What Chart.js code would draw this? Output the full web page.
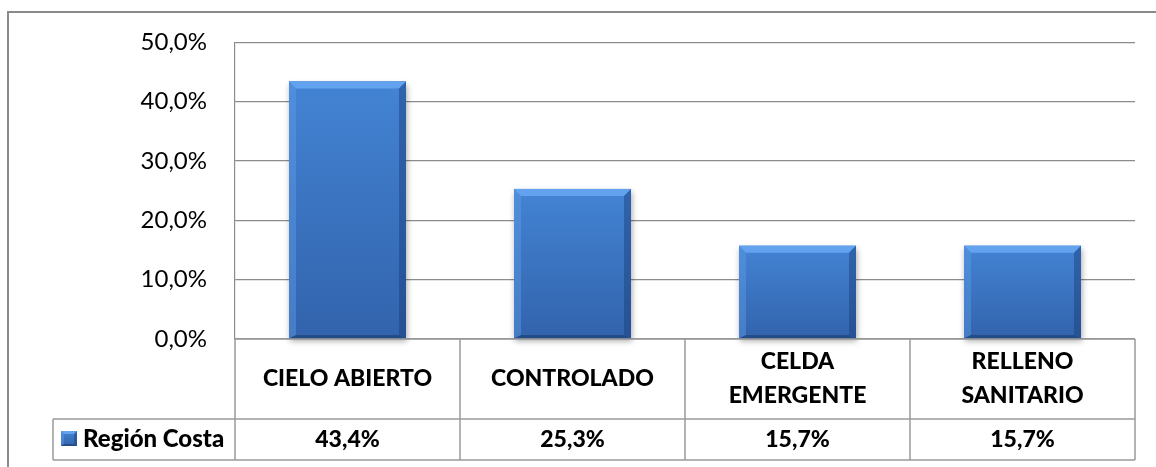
<!DOCTYPE html>
<html>
<head>
<meta charset="utf-8">
<script src="https://cdn.jsdelivr.net/npm/chart.js@4.4.1/dist/chart.umd.min.js"></script>
<style>
html,body{margin:0;padding:0;background:#fff;}
#wrap{width:1156px;height:467px;}
</style>
</head>
<body>
<div id="wrap"><canvas id="c" width="1156" height="467"></canvas></div>
<script>
// ---- data ----
const categories = [['CIELO ABIERTO'], ['CONTROLADO'], ['CELDA', 'EMERGENTE'], ['RELLENO', 'SANITARIO']];
const seriesName = 'Región Costa';
const values = [43.4, 25.3, 15.7, 15.7];
const yMin = 0, yMax = 50, yStep = 10;

const fmt = v => v.toFixed(1).replace('.', ',') + '%';
const FONT = 'Lato, "Open Sans", sans-serif';

function bevelBox(ctx, l, t, r, b, bv) {
  const g = ctx.createLinearGradient(0, t, 0, b);
  g.addColorStop(0, '#4384d4');
  g.addColorStop(1, '#3263ac');
  ctx.fillStyle = g;
  ctx.fillRect(l, t, r - l, b - t);
  const poly = (pts, c) => {
    ctx.beginPath();
    ctx.moveTo(pts[0][0], pts[0][1]);
    for (let i = 1; i < pts.length; i++) ctx.lineTo(pts[i][0], pts[i][1]);
    ctx.closePath();
    ctx.fillStyle = c;
    ctx.fill();
  };
  const bb = Math.max(2, bv * 0.5);
  poly([[l, t], [r, t], [r - bv, t + bv], [l + bv, t + bv]], '#62a2ee');
  poly([[l, t], [l + bv, t + bv], [l + bv, b - bb], [l, b]], 'rgba(95,155,230,0.45)');
  poly([[r, t], [r - bv, t + bv], [r - bv, b - bb], [r, b]], 'rgba(25,60,120,0.45)');
  poly([[l, b], [l + bv, b - bb], [r - bv, b - bb], [r, b]], '#234c88');
}

const barStyle = {
  id: 'barStyle',
  beforeDatasetsDraw(chart) {
    const ctx = chart.ctx;
    ctx.save();
    ctx.shadowColor = 'rgba(0,0,0,0.35)';
    ctx.shadowBlur = 6;
    ctx.shadowOffsetX = 1;
    ctx.shadowOffsetY = 3;
  },
  afterDatasetsDraw(chart) {
    const ctx = chart.ctx;
    ctx.restore();
    const meta = chart.getDatasetMeta(0);
    meta.data.forEach(el => {
      const l = el.x - el.width / 2, r = el.x + el.width / 2;
      bevelBox(ctx, l, el.y, r, el.base, 7);
    });
  }
};

const frame = {
  id: 'frame',
  afterDraw(chart) {
    const ctx = chart.ctx;
    const a = chart.chartArea;
    const xs = chart.scales.x;
    ctx.save();
    // outer border
    ctx.strokeStyle = '#8a8a8a';
    ctx.lineWidth = 2;
    ctx.beginPath();
    ctx.moveTo(8, 480);
    ctx.lineTo(8, 12);
    ctx.lineTo(1160, 12);
    ctx.stroke();

    // data table
    const headTop = a.bottom, headBot = a.bottom + 80, tabBot = headBot + 41;
    const legLeft = 53;
    ctx.strokeStyle = '#9a9a9a';
    ctx.lineWidth = 1.5;
    const n = categories.length;
    const half = (xs.getPixelForValue(1) - xs.getPixelForValue(0)) / 2;
    ctx.beginPath();
    ctx.moveTo(a.left, headTop); ctx.lineTo(a.right, headTop);
    ctx.moveTo(legLeft, headBot); ctx.lineTo(a.right, headBot);
    ctx.moveTo(legLeft, tabBot); ctx.lineTo(a.right, tabBot);
    ctx.moveTo(legLeft, headBot); ctx.lineTo(legLeft, tabBot);
    for (let i = 0; i <= n; i++) {
      const x = i < n ? xs.getPixelForValue(i) - half : xs.getPixelForValue(n - 1) + half;
      ctx.moveTo(x, headTop); ctx.lineTo(x, tabBot);
    }
    ctx.stroke();

    ctx.fillStyle = '#000';
    ctx.textAlign = 'center';
    ctx.textBaseline = 'middle';
    ctx.font = '900 23px ' + FONT;
    const hMid = (headTop + headBot) / 2;
    const vMid = (headBot + tabBot) / 2;
    categories.forEach((lines, i) => {
      const cx = xs.getPixelForValue(i);
      const lh = 34;
      lines.forEach((s, j) => {
        ctx.fillText(s, cx, hMid + (j - (lines.length - 1) / 2) * lh);
      });
      ctx.fillText(fmt(values[i]), cx, vMid);
    });
    // legend cell
    bevelBox(ctx, 61, 431, 77, 446, 3);
    ctx.fillStyle = '#000';
    ctx.textAlign = 'left';
    ctx.font = '900 24px ' + FONT;
    ctx.fillText(seriesName, 83, vMid);
    ctx.restore();
  }
};

new Chart(document.getElementById('c'), {
  type: 'bar',
  data: {
    labels: categories,
    datasets: [{
      label: seriesName,
      data: values,
      backgroundColor: '#3d79c6',
      borderWidth: 0,
      barPercentage: 0.52,
      categoryPercentage: 1,
      clip: false
    }]
  },
  options: {
    responsive: false,
    animation: false,
    devicePixelRatio: 1,
    layout: { padding: { left: 0, right: 21, top: 42, bottom: 128 } },
    plugins: { legend: { display: false }, tooltip: { enabled: false } },
    scales: {
      x: { display: false },
      y: {
        min: yMin, max: yMax,
        afterFit(s) { s.width = 235; },
        ticks: {
          stepSize: yStep,
          padding: 28,
          color: '#000',
          font: { family: FONT, size: 24 },
          callback: v => fmt(v)
        },
        grid: { color: '#8c8c8c', lineWidth: 1.2, drawTicks: false },
        border: { display: true, color: '#8c8c8c', width: 1.2 }
      }
    }
  },
  plugins: [barStyle, frame]
});
</script>
</body>
</html>
